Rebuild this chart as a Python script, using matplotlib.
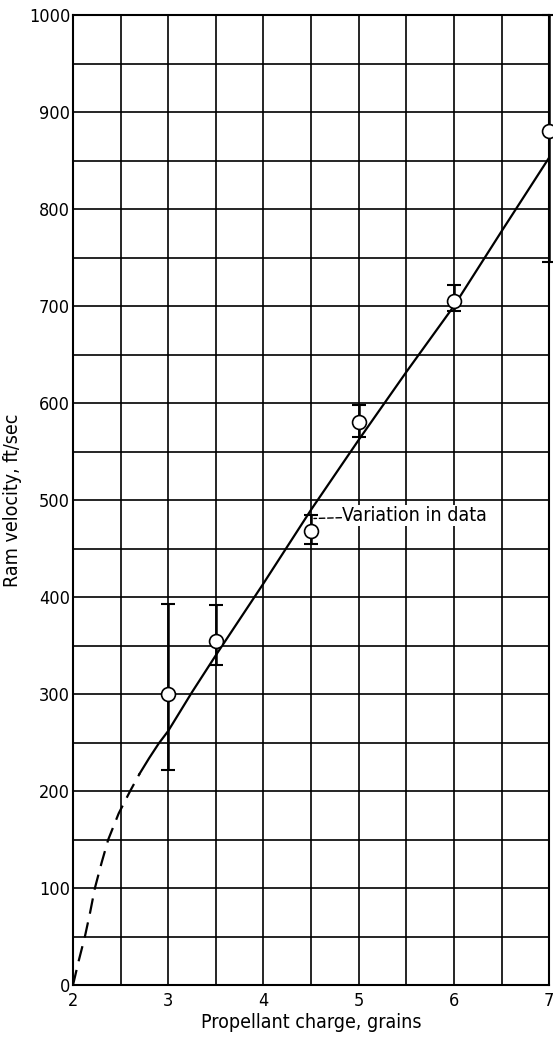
import numpy as np
import matplotlib
matplotlib.use('Agg')
from matplotlib import pyplot as plt

plt.rcParams['font.family'] = ['DejaVu Sans']
plt.rcParams['font.stretch'] = 'condensed'

# measured points
charge = [3, 3.5, 4.5, 5, 6, 7]
velocity = [300, 355, 468, 580, 705, 880]
err_low = [222, 330, 455, 565, 695, 745]
err_high = [393, 392, 485, 598, 722, 1000]

# faired curve (dashed extrapolation + solid part)
dash_x = [2.0, 2.06, 2.125, 2.18, 2.23, 2.3, 2.37, 2.48, 2.6, 2.7]
dash_y = [0, 25, 50, 75, 100, 126, 150, 177, 200, 218]
solid_x = [2.7, 2.8, 2.9, 3.0, 3.25, 3.5, 3.75, 4.0, 4.5, 5.0, 5.5, 6.0, 6.5, 7.0]
solid_y = [218, 234, 249, 262, 302, 340, 377, 414, 490, 562, 632, 700, 777, 853]

xticks = [2, 3, 4, 5, 6, 7]
yticks = list(range(0, 1001, 100))

fig = plt.figure(figsize=(5.53, 10.38), dpi=100)
ax = fig.add_axes([0.132, 0.051, 0.861, 0.9345])

# grid every half grain / 50 ft/sec
for gx in np.arange(2, 7.01, 0.5):
    ax.axvline(gx, color='black', lw=1.2, zorder=1)
for gy in range(0, 1001, 50):
    ax.axhline(gy, color='black', lw=1.2, zorder=1)

ax.plot(dash_x, dash_y, color='black', lw=1.6, ls=(0, (7, 4)), zorder=3)
ax.plot(solid_x, solid_y, color='black', lw=1.6, zorder=3)

yerr = [np.array(velocity) - np.array(err_low), np.array(err_high) - np.array(velocity)]
ax.errorbar(charge, velocity, yerr=yerr, fmt='none', ecolor='black', elinewidth=1.8,
            capsize=5, capthick=1.5, zorder=4, clip_on=False)
ax.plot(charge, velocity, 'o', mfc='white', mec='black', mew=1.2, ms=10, zorder=5, clip_on=False)

ax.annotate('Variation in data', xy=(4.53, 481), xytext=(4.83, 484),
            fontsize=14, va='center', ha='left',
            bbox=dict(boxstyle='square,pad=0.05', fc='white', ec='none'),
            arrowprops=dict(arrowstyle='-', ls=(0, (4, 2)), color='black', lw=1.0,
                            shrinkA=0, shrinkB=0), zorder=6)

ax.set_xlim(2, 7)
ax.set_ylim(0, 1000)
ax.set_xticks(xticks)
ax.set_yticks(yticks)
ax.tick_params(length=0, labelsize=13)
ax.tick_params(axis='x', pad=5)
ax.tick_params(axis='y', pad=2)
for s in ax.spines.values():
    s.set_linewidth(1.5)
ax.set_xlabel('Propellant charge, grains', fontsize=14, labelpad=2)
ax.set_ylabel('Ram velocity, ft/sec', fontsize=14, labelpad=5)

fig.savefig('out.png', dpi=100)
